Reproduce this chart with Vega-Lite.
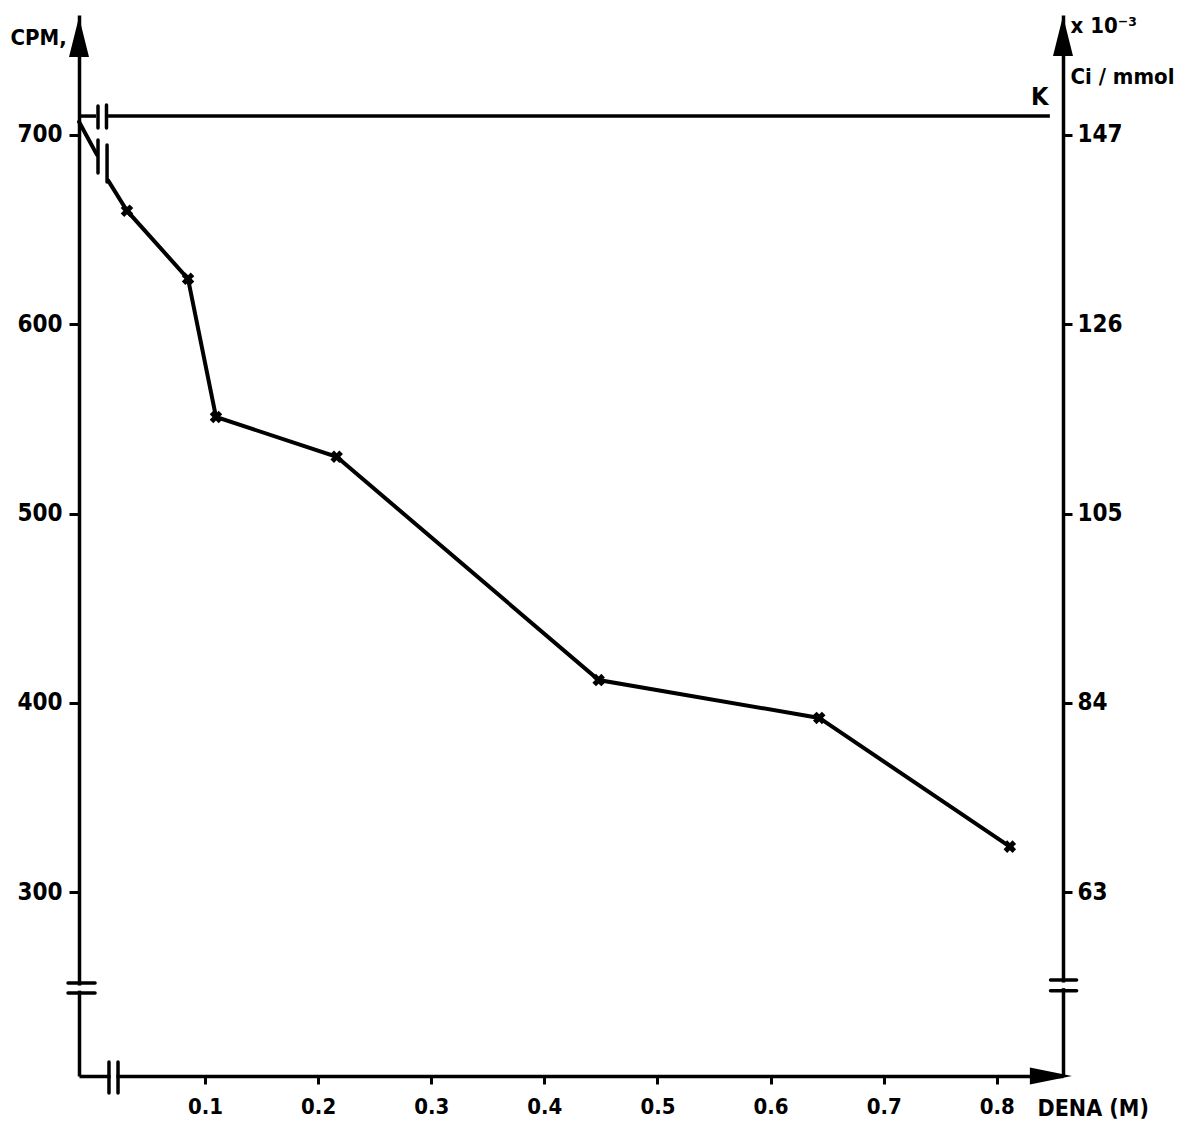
{
  "$schema": "https://vega.github.io/schema/vega-lite/v6.json",
  "autosize": {"type": "none"},
  "padding": {"left": 79, "top": 15, "right": 123, "bottom": 48},
  "width": 984,
  "height": 1061,
  "background": "white",
  "config": {
    "view": {"stroke": null},
    "font": "DejaVu Sans Condensed, sans-serif",
    "axis": {"grid": false, "domainColor": "black", "tickColor": "black", "labelColor": "black", "titleColor": "black", "labelFont": "DejaVu Sans Condensed, sans-serif", "titleFont": "DejaVu Sans Condensed, sans-serif", "labelFontWeight": "bold", "titleFontWeight": "bold"}
  },
  "datasets": {
    "series": [
      {"x": -0.0114, "y": 707, "seg": "a", "marker": false},
      {"x": 0.0045, "y": 689.5, "seg": "a", "marker": false},
      {"x": 0.0143, "y": 676, "seg": "b", "marker": false},
      {"x": 0.031, "y": 660, "seg": "b", "marker": true},
      {"x": 0.085, "y": 624, "seg": "b", "marker": true},
      {"x": 0.1097, "y": 551, "seg": "b", "marker": true},
      {"x": 0.2164, "y": 530, "seg": "b", "marker": true},
      {"x": 0.448, "y": 412, "seg": "b", "marker": true},
      {"x": 0.643, "y": 392, "seg": "b", "marker": true},
      {"x": 0.8115, "y": 324, "seg": "b", "marker": true}
    ],
    "kline": [
      {"x": -0.0114, "x2": 0.0037, "y": 710},
      {"x": 0.0143, "x2": 0.8469, "y": 710}
    ],
    "breaks": [
      {"x": 0.0054, "x2": 0.0054, "y": 715.3, "y2": 703.7},
      {"x": 0.0129, "x2": 0.0129, "y": 715.9, "y2": 703.7},
      {"x": 0.0054, "x2": 0.0054, "y": 697.4, "y2": 679.9},
      {"x": 0.0134, "x2": 0.0134, "y": 694.7, "y2": 675.2},
      {"x": -0.0211, "x2": 0.0028, "y": 251.9, "y2": 251.9},
      {"x": -0.0211, "x2": 0.0028, "y": 246.6, "y2": 246.6},
      {"x": 0.8475, "x2": 0.8705, "y": 253.5, "y2": 253.5},
      {"x": 0.8475, "x2": 0.8705, "y": 247.9, "y2": 247.9},
      {"x": 0.0151, "x2": 0.0151, "y": 210.2, "y2": 193.8},
      {"x": 0.0231, "x2": 0.0231, "y": 210.2, "y2": 193.8}
    ],
    "gaps": [
      {"x": -0.0114, "x2": -0.0114, "y": 250.6, "y2": 247.9},
      {"x": 0.8585, "x2": 0.8585, "y": 252.2, "y2": 249.2},
      {"x": 0.0165, "x2": 0.0217, "y": 202.8, "y2": 202.8}
    ],
    "uparrows": [
      {"x": -0.0114, "y": 751.8},
      {"x": 0.8585, "y": 752.3}
    ],
    "rightarrow": [
      {"x": 0.8478, "y": 202.8}
    ],
    "labels": [
      {"x": 0.838, "y": 716, "text": "K"}
    ]
  },
  "encoding": {
    "x": {"field": "x", "type": "quantitative", "scale": {"domain": [-0.0114, 0.8585], "nice": false, "zero": false},
      "axis": {"orient": "bottom", "values": [0.1, 0.2, 0.3, 0.4, 0.5, 0.6, 0.7, 0.8], "format": ".1f", "domainWidth": 3.5, "tickSize": 8, "tickWidth": 3, "labelFontSize": 22, "labelPadding": 12, "title": "DENA   (M)", "titleFontSize": 23, "titleAngle": 0, "titleX": 958, "titleY": 39, "titleAlign": "left", "titleBaseline": "alphabetic"}},
    "y": {"field": "y", "type": "quantitative", "scale": {"domain": [202.8, 763.4], "nice": false, "zero": false}, "axis": null}
  },
  "layer": [
    {
      "data": {"name": "series"},
      "mark": {"type": "line", "color": "black", "strokeWidth": 4, "strokeCap": "round"},
      "encoding": {
        "y": {"field": "y", "type": "quantitative", "scale": {"domain": [202.8, 763.4], "nice": false, "zero": false},
          "axis": {"orient": "left", "values": [300, 400, 500, 600, 700], "domainWidth": 3.5, "tickSize": 10, "tickWidth": 3, "labelFontSize": 24, "labelPadding": 7, "title": "CPM,", "titleFontSize": 22, "titleAngle": 0, "titleX": -69, "titleY": 29, "titleAlign": "left", "titleBaseline": "alphabetic"}},
        "detail": {"field": "seg", "type": "nominal"}
      }
    },
    {
      "data": {"name": "series"},
      "transform": [{"filter": "datum.marker"}],
      "mark": {"type": "point", "shape": "cross", "angle": 45, "filled": true, "color": "black", "size": 160, "opacity": 1}
    },
    {
      "data": {"name": "kline"},
      "mark": {"type": "rule", "color": "black", "strokeWidth": 3.5},
      "encoding": {
        "x2": {"field": "x2"},
        "y": {"field": "y", "type": "quantitative", "scale": {"domain": [202.8, 763.4], "nice": false, "zero": false},
          "axis": {"orient": "right", "values": [300, 400, 500, 600, 700], "labelExpr": "format(datum.value * 0.21, 'd')", "domainWidth": 3.5, "tickSize": 9, "tickWidth": 3, "labelFontSize": 24, "labelPadding": 5, "title": ["x 10⁻³", "Ci / mmol"], "titleFontSize": 22, "titleLineHeight": 51, "titleAngle": 0, "titleX": 7, "titleY": 17, "titleAlign": "left", "titleBaseline": "alphabetic"}}
      }
    },
    {
      "data": {"name": "gaps"},
      "mark": {"type": "rule", "color": "white", "strokeWidth": 7},
      "encoding": {"x2": {"field": "x2"}, "y2": {"field": "y2"}}
    },
    {
      "data": {"name": "breaks"},
      "mark": {"type": "rule", "color": "black", "strokeWidth": 3.5, "strokeCap": "round"},
      "encoding": {"x2": {"field": "x2"}, "y2": {"field": "y2"}}
    },
    {
      "data": {"name": "uparrows"},
      "mark": {"type": "point", "shape": "M0,-1L0.5,1L-0.5,1Z", "filled": true, "color": "black", "size": 1600, "opacity": 1}
    },
    {
      "data": {"name": "rightarrow"},
      "mark": {"type": "point", "shape": "M1,0L-1,-0.4L-1,0.4Z", "filled": true, "color": "black", "size": 1764, "opacity": 1}
    },
    {
      "data": {"name": "labels"},
      "mark": {"type": "text", "fontSize": 25, "fontWeight": "bold", "align": "center", "baseline": "alphabetic", "color": "black"},
      "encoding": {"text": {"field": "text"}}
    }
  ],
  "resolve": {"axis": {"y": "independent"}}
}
